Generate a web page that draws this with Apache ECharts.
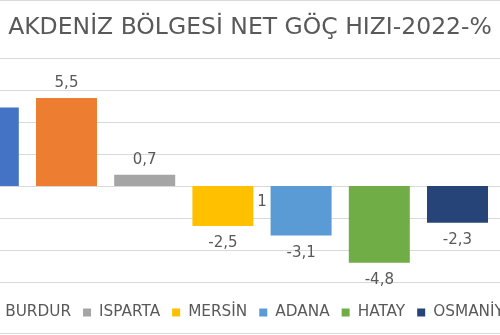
<!DOCTYPE html>
<html>
<head>
<meta charset="utf-8">
<script src="https://cdn.jsdelivr.net/npm/echarts@6/dist/echarts.min.js"></script>
<style>
html,body{margin:0;padding:0;width:500px;height:335px;overflow:hidden;background:#fff;position:relative;}
#chart{position:absolute;left:-120px;top:0;width:740px;height:335px;}
</style>
</head>
<body>
<div id="chart"></div>
<script>
// Data (the reference image is a crop; first and last provinces are partly / fully out of view)
const titleText = 'AKDENİZ BÖLGESİ NET GÖÇ HIZI-2022-%';
const categories = ['1'];
const provinces = ['ANTALYA', 'BURDUR', 'ISPARTA', 'MERSİN', 'ADANA', 'HATAY', 'OSMANİYE', 'KAHRAMANMARAŞ'];
const rates = [4.9, 5.5, 0.7, -2.5, -3.1, -4.8, -2.3, -2.0];
const yTicks = { min: -6, max: 8, interval: 2 };

const colors = ['#4472C4', '#ED7D31', '#A5A5A5', '#FFC000', '#5B9BD5', '#70AD47', '#264478', '#9E480E'];
const FONT = 'DejaVu Sans';
const TXT = '#595959';
const GRID = { left: 69.2, right: 45.2, top: 58, bottom: 53 };

const chart = echarts.init(document.getElementById('chart'), null, { renderer: 'canvas' });

const series = provinces.map((name, i) => ({
  name: name,
  type: 'bar',
  data: [rates[i]],
  barWidth: 61,
  barGap: '28.2%',
  itemStyle: { color: colors[i] },
  label: {
    show: true,
    position: rates[i] >= 0 ? 'top' : 'bottom',
    distance: rates[i] >= 0 ? 7 : 10,
    fontFamily: FONT,
    fontSize: 15,
    color: TXT,
    formatter: p => String(p.value).replace('.', ',')
  }
}));

chart.setOption({
  animation: false,
  color: colors,
  title: {
    text: titleText,
    left: 'center',
    top: 11,
    textStyle: { fontFamily: FONT, fontSize: 23.5, fontWeight: 'normal', color: TXT }
  },
  legend: {
    data: provinces,
    left: 15.5,
    top: 305,
    width: 1400,
    padding: 0,
    itemWidth: 8,
    itemHeight: 8,
    itemGap: 12,
    icon: 'rect',
    textStyle: { fontFamily: FONT, fontSize: 15.3, color: TXT, padding: [0, 0, 0, 3] }
  },
  grid: GRID,
  xAxis: {
    type: 'category',
    data: categories,
    offset: 0,
    axisLine: { onZero: false, lineStyle: { color: '#d9d9d9', width: 1 } },
    axisTick: { show: false },
    axisLabel: { fontFamily: FONT, fontSize: 15, color: TXT, margin: 9 },
    splitLine: { show: false }
  },
  yAxis: {
    type: 'value',
    min: yTicks.min,
    max: yTicks.max,
    interval: yTicks.interval,
    axisLine: { show: false },
    axisTick: { show: false },
    axisLabel: { fontFamily: FONT, fontSize: 15, color: TXT },
    splitLine: { lineStyle: { color: '#d9d9d9', width: 1 } }
  },
  graphic: [{
    type: 'rect',
    shape: { x: 0.5, y: 0.5, width: 739, height: 333 },
    style: { fill: 'none', stroke: '#d9d9d9', lineWidth: 1 },
    silent: true,
    z: -1
  }],
  series: series
});

// Move the category axis up to the zero line (measured through the value axis)
const zeroY = chart.convertToPixel({ yAxisIndex: 0 }, 0);
const minY = chart.convertToPixel({ yAxisIndex: 0 }, yTicks.min);
chart.setOption({ xAxis: { offset: zeroY - minY } });
</script>
</body>
</html>
